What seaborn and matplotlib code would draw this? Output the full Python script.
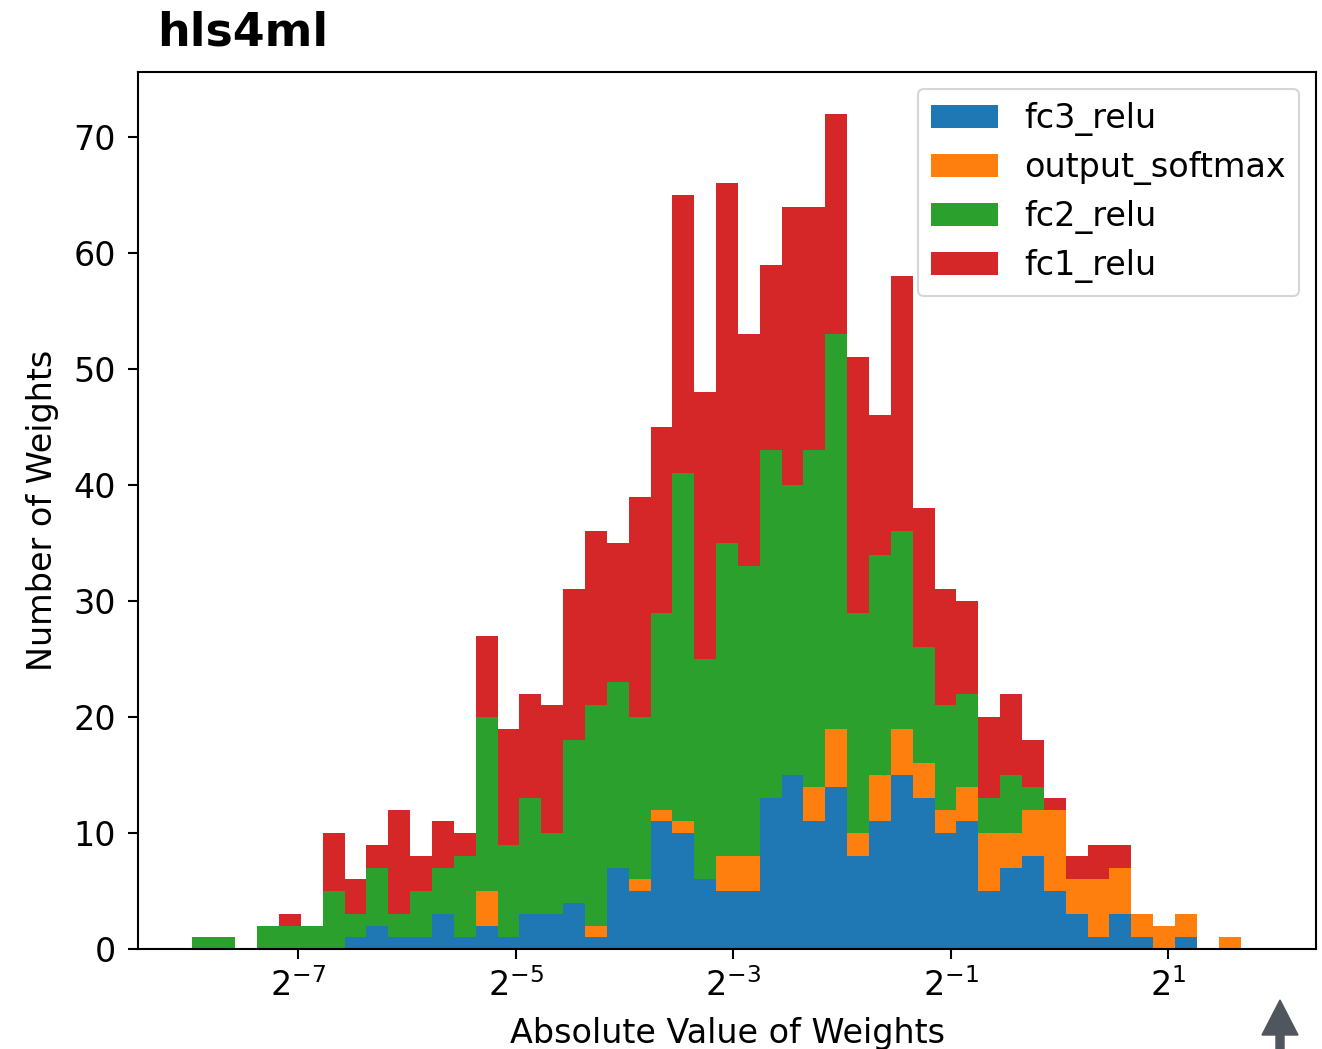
import numpy as np
import pandas as pd
import matplotlib
matplotlib.use("Agg")
import matplotlib.pyplot as plt
from matplotlib.patches import Patch, FancyArrow
import seaborn as sns

# Histogram binning in log2(|w|) space
LOG2_LO = -7.983
BIN_W = 0.201
N_BINS = 49

# Per-layer weight counts in each bin (low to high |w|)
fc3_relu = [0, 0, 0, 0, 0, 0, 0, 1, 2, 1, 1, 3, 1, 2, 1, 3, 3, 4, 1, 7,
            5, 11, 10, 6, 5, 5, 13, 15, 11, 14, 8, 11, 15, 13, 10, 11, 5, 7, 8, 5,
            3, 1, 3, 1, 0, 1, 0, 0, 0]
output_softmax = [0, 0, 0, 0, 0, 0, 0, 0, 0, 0, 0, 0, 0, 3, 0, 0, 0, 0, 1, 0,
                  1, 1, 1, 0, 3, 3, 0, 0, 3, 5, 2, 4, 4, 3, 2, 3, 5, 3, 4, 7,
                  3, 5, 4, 2, 2, 2, 0, 1, 0]
fc2_relu = [1, 1, 0, 2, 2, 2, 5, 2, 5, 2, 4, 4, 7, 15, 8, 10, 7, 14, 19, 16,
            14, 17, 30, 19, 27, 25, 30, 25, 29, 34, 19, 19, 17, 10, 9, 8, 3, 5, 2, 0,
            0, 0, 0, 0, 0, 0, 0, 0, 0]
fc1_relu = [0, 0, 0, 0, 1, 0, 5, 3, 2, 9, 3, 4, 2, 7, 10, 9, 11, 13, 15, 12,
            19, 16, 24, 23, 31, 20, 16, 24, 21, 19, 22, 12, 22, 12, 10, 8, 7, 7, 4, 1,
            2, 3, 2, 0, 0, 0, 0, 0, 0]

layers = ["fc3_relu", "output_softmax", "fc2_relu", "fc1_relu"]
layer_counts = [fc3_relu, output_softmax, fc2_relu, fc1_relu]
colors = ["#1f77b4", "#ff7f0e", "#2ca02c", "#d62728"]

xtick_pows = [-7, -5, -3, -1, 1]

edges = LOG2_LO + BIN_W * np.arange(N_BINS + 1)
centers = 0.5 * (edges[:-1] + edges[1:])

df = pd.concat(
    [pd.DataFrame({"log2w": centers, "count": c, "layer": name})
     for name, c in zip(layers, layer_counts)],
    ignore_index=True,
)

sns.set_style("ticks")
plt.rcParams.update({
    "font.family": ["DejaVu Sans"],
    "font.size": 24,
    "axes.edgecolor": "black",
    "axes.linewidth": 1.5,
    "xtick.color": "black",
    "ytick.color": "black",
    "xtick.major.width": 1.5,
    "ytick.major.width": 1.5,
    "xtick.major.size": 7,
    "ytick.major.size": 7,
    "text.color": "black",
    "axes.labelcolor": "black",
})

fig = plt.figure(figsize=(13.22, 10.49), dpi=100)
ax = fig.add_axes([138 / 1322, 1 - 949 / 1049, (1316 - 138) / 1322, (949 - 72) / 1049])

# Seaborn stacks the last hue level at the bottom, so feed the order reversed
sns.histplot(
    data=df, x="log2w", weights="count", hue="layer",
    hue_order=layers[::-1], palette=dict(zip(layers, colors)),
    bins=edges.tolist(), multiple="stack", element="bars",
    alpha=1.0, linewidth=0, legend=False, ax=ax,
)

ax.set_yticks(np.arange(0, 71, 10))
ax.set_xticks(xtick_pows)
ax.set_xticklabels([f"$2^{{{p}}}$" for p in xtick_pows])
ax.tick_params(axis="x", labelsize=24, pad=7)
ax.tick_params(axis="y", labelsize=24, pad=9)
ax.set_xlabel("Absolute Value of Weights", fontsize=24, labelpad=10)
ax.set_ylabel("Number of Weights", fontsize=24, labelpad=10)
for s in ax.spines.values():
    s.set_visible(True)
    s.set_color("black")

handles = [Patch(facecolor=c, edgecolor="none", label=n) for n, c in zip(layers, colors)]
leg = ax.legend(
    handles=handles, loc="upper right", fontsize=24,
    handlelength=2.0, handleheight=0.7, handletextpad=0.8,
    labelspacing=0.45, borderpad=0.4, borderaxespad=0.5,
    frameon=True, fancybox=True, framealpha=0.8,
)
leg.get_frame().set_edgecolor("#cccccc")
leg.get_frame().set_linewidth(1.5)

fig.text(157 / 1322, 1 - 33 / 1049, "hls4ml", fontsize=33, fontweight="bold",
         ha="left", va="center")

# small scroll-up arrow in the lower-right corner
fig.add_artist(FancyArrow(12.80, 0.0, 0.0, 0.49, width=0.08, head_width=0.36,
                          head_length=0.35, length_includes_head=True,
                          color="#50565d", transform=fig.dpi_scale_trans))

fig.savefig("out.png", dpi=100)
